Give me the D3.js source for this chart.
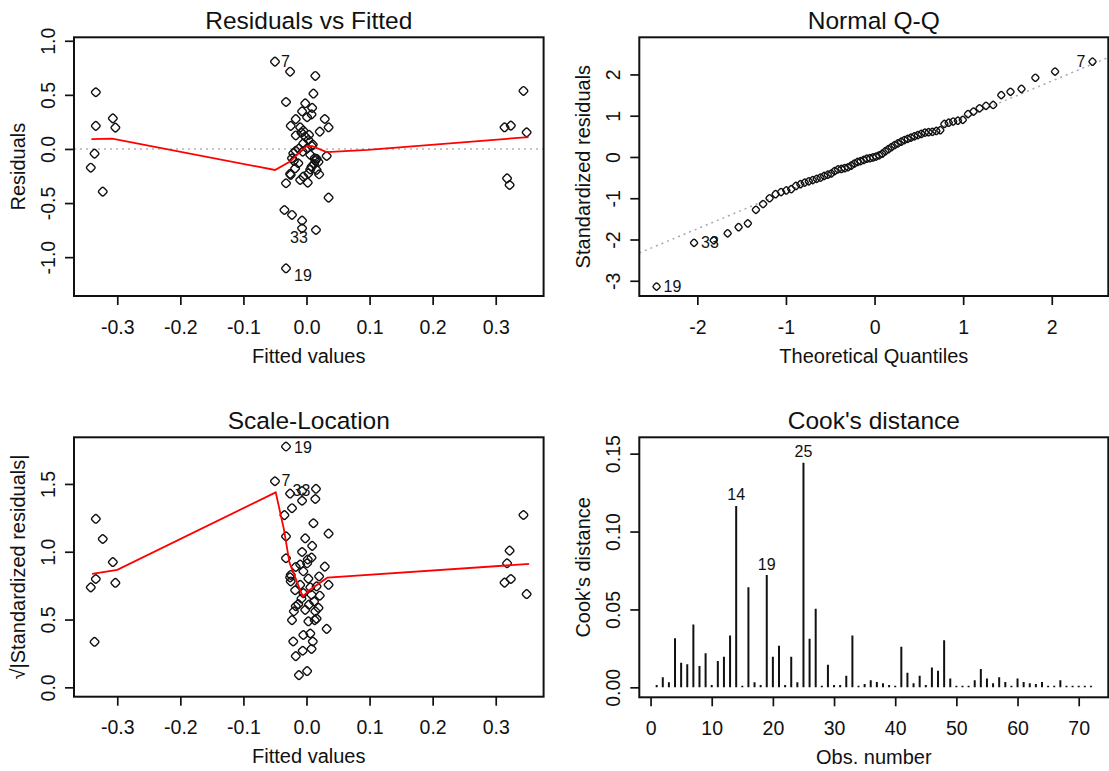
<!DOCTYPE html>
<html>
<head>
<meta charset="utf-8">
<script src="https://cdn.jsdelivr.net/npm/d3@7"></script>
<style>
  body { margin: 0; background: #fff; }
  svg text { font-family: "Liberation Sans", Arial, Helvetica, sans-serif; fill: #111; }
</style>
</head>
<body>
<svg id="chart" width="1109" height="771"></svg>
<script>
const fittedValues = [-0.342,-0.026,0.035,-0.307,-0.0325,0.021,-0.050,0.014,0.314,-0.017,
  0.011,-0.002,-0.334,0.344,0.003,-0.323,0.009,-0.005,-0.0325,-0.035,
  0.322,-0.012,-0.023,-0.007,0.318,0.035,-0.303,0.001,-0.007,0.008,
  -0.006,0.001,-0.007,-0.021,0.008,-0.017,0.029,0.032,0.013,-0.023,
  -0.334,-0.025,0.006,-0.010,-0.013,0.015,0.008,0.324,-0.005,0.016,
  -0.002,-0.025,-0.005,-0.336,0.003,0.020,-0.0325,0.002,-0.010,0.349,
  -0.018,0.004,0.010,-0.017,0.014,-0.020,0.012,-0.026,0.016,-0.008,
  0.006,0.019];

const residuals = [-0.173,0.714,0.200,0.283,0.434,0.160,0.807,0.675,0.200,0.125,
  0.512,0.422,0.524,0.536,0.083,-0.394,0.380,0.052,-1.103,-0.564,
  -0.333,0.003,-0.610,0.348,-0.271,-0.450,0.197,0.005,-0.662,0.028,
  -0.025,0.293,-0.733,-0.040,0.320,0.276,0.277,-0.065,-0.086,-0.086,
  0.213,0.213,-0.055,0.200,-0.132,-0.749,-0.163,0.216,0.169,-0.194,
  0.114,-0.240,-0.256,-0.043,-0.225,-0.234,-0.317,-0.311,-0.287,0.154,
  -0.179,0.130,0.040,-0.018,-0.110,-0.110,-0.140,-0.230,-0.090,0.150,
  -0.190,-0.120];

const sqrtStdResid = [0.737,1.429,0.756,0.924,1.114,0.676,1.520,1.389,0.772,0.598,
  1.210,1.099,1.243,1.271,0.487,1.094,1.043,0.386,1.776,1.270,
  1.008,0.090,1.321,0.998,0.915,1.134,0.771,0.120,1.376,0.283,
  0.270,0.915,1.448,0.338,0.957,0.888,0.890,0.431,0.496,0.496,
  0.799,0.781,0.397,0.756,0.614,1.464,0.683,0.799,0.695,0.745,
  0.571,0.829,0.856,0.336,0.802,0.818,0.952,0.943,0.906,0.688,
  0.716,0.610,0.338,0.230,0.561,0.561,0.633,0.811,0.507,0.655,
  0.737,0.586];

const cooksDistance = [0.0015,0.0064,0.0032,0.0315,0.0158,0.0148,0.0404,0.0137,0.0218,0.0015,
  0.0169,0.0197,0.0332,0.1164,0.0010,0.0642,0.0032,0.0015,0.0721,0.0197,
  0.0267,0.0015,0.0197,0.0032,0.1442,0.0312,0.0505,0.0010,0.0145,0.0015,
  0.0015,0.0075,0.0332,0.0010,0.0021,0.0045,0.0034,0.0026,0.0015,0.0010,
  0.0261,0.0094,0.0026,0.0075,0.0015,0.0128,0.0107,0.0302,0.0056,0.0010,
  0.0010,0.0010,0.0045,0.0118,0.0056,0.0026,0.0064,0.0034,0.0010,0.0056,
  0.0034,0.0026,0.0021,0.0034,0.0010,0.0010,0.0045,0.0010,0.0010,0.0010,
  0.0010,0.0010];

// normal Q-Q, sorted
const qqTheoretical = [-2.460,-2.037,-1.815,-1.658,-1.534,-1.430,-1.339,-1.258,-1.185,-1.117,
  -1.055,-0.996,-0.940,-0.887,-0.837,-0.788,-0.742,-0.697,-0.653,-0.610,
  -0.569,-0.528,-0.489,-0.450,-0.412,-0.374,-0.337,-0.300,-0.264,-0.228,
  -0.192,-0.157,-0.122,-0.087,-0.052,-0.017,0.017,0.052,0.087,0.122,
  0.157,0.192,0.228,0.264,0.300,0.337,0.374,0.412,0.450,0.489,
  0.528,0.569,0.610,0.653,0.697,0.742,0.788,0.837,0.887,0.940,
  0.996,1.055,1.117,1.185,1.258,1.339,1.430,1.534,1.658,1.815,
  2.037,2.460];
const qqStdResid = [-3.14,-2.08,-2.02,-1.85,-1.70,-1.61,-1.28,-1.14,-1.00,-0.90,
  -0.85,-0.81,-0.78,-0.70,-0.66,-0.62,-0.59,-0.56,-0.53,-0.50,
  -0.46,-0.43,-0.40,-0.34,-0.30,-0.29,-0.27,-0.25,-0.21,-0.16,
  -0.12,-0.10,-0.07,-0.04,-0.03,-0.01,0.01,0.04,0.08,0.14,
  0.19,0.24,0.29,0.33,0.37,0.41,0.44,0.47,0.50,0.53,
  0.56,0.59,0.60,0.61,0.63,0.65,0.80,0.83,0.86,0.88,
  0.90,1.04,1.10,1.18,1.24,1.26,1.50,1.58,1.65,1.92,
  2.07,2.31];
const qqLine = { intercept: 0.05, slope: 0.895 };

// smoother lines (red)
const rvfSmoothX = [-0.341,-0.308,-0.050,-0.026,-0.010,0.001,0.009,0.032,0.097,0.352];
const rvfSmoothY = [0.090,0.095,-0.194,-0.117,-0.025,0.028,0.025,-0.030,-0.009,0.110];
const slSmoothX = [-0.340,-0.300,-0.0488,-0.036,-0.027,-0.006,0.005,0.033,0.353];
const slSmoothY = [0.836,0.866,1.438,1.17,0.92,0.669,0.718,0.809,0.910];

// labelled observations
const rvfLabelled = [7, 19, 33];
const qqLabelled = [{ rank: 1, text: "19" }, { rank: 2, text: "33" }, { rank: 72, text: "7" }];
const cookLabelled = [14, 19, 25];

// ---- drawing ----
const svg = d3.select("#chart");
const ink = "#111";
let clipCount = 0;

// R's open circle comes out as a rounded diamond in the picture
function diamond(r) {
  const k = r * 0.28;
  return `M${-k},${-r + k}Q0,${-r} ${k},${-r + k}L${r - k},${-k}Q${r},0 ${r - k},${k}` +
    `L${k},${r - k}Q0,${r} ${-k},${r - k}L${-r + k},${k}Q${-r},0 ${-r + k},${-k}Z`;
}

function makePanel(b, xDomain, yDomain, xTicks, yTicks, xFmt, yFmt, title, xTitle, yTitle) {
  const x = d3.scaleLinear().domain(xDomain).range([b.left, b.right]);
  const y = d3.scaleLinear().domain(yDomain).range([b.bottom, b.top]);
  const g = svg.append("g");
  const id = "clip" + (clipCount++);
  svg.append("clipPath").attr("id", id).append("rect")
    .attr("x", b.left).attr("y", b.top)
    .attr("width", b.right - b.left).attr("height", b.bottom - b.top);
  const plot = g.append("g").attr("clip-path", `url(#${id})`);

  const xa = g.append("g").attr("transform", `translate(0,${b.bottom})`)
    .call(d3.axisBottom(x).tickValues(xTicks).tickFormat(xFmt).tickSize(9).tickSizeOuter(0));
  xa.attr("font-size", null).attr("font-family", null);
  xa.select(".domain").remove();
  xa.selectAll(".tick line").attr("stroke", ink).attr("stroke-width", 1.7);
  xa.selectAll(".tick text").attr("y", 37.5).attr("dy", null)
    .style("font-size", "19.5px");

  const ya = g.append("g").attr("transform", `translate(${b.left},0)`)
    .call(d3.axisLeft(y).tickValues(yTicks).tickFormat(yFmt).tickSize(9).tickSizeOuter(0));
  ya.attr("font-size", null).attr("font-family", null);
  ya.select(".domain").remove();
  ya.selectAll(".tick line").attr("stroke", ink).attr("stroke-width", 1.7);
  ya.selectAll(".tick text").attr("x", null).attr("dy", null)
    .attr("text-anchor", "middle")
    .attr("transform", "translate(-19,0) rotate(-90)")
    .style("font-size", "19.5px");

  g.append("rect")
    .attr("x", b.left).attr("y", b.top)
    .attr("width", b.right - b.left).attr("height", b.bottom - b.top)
    .attr("fill", "none").attr("stroke", ink).attr("stroke-width", 2);

  const cx = (b.left + b.right) / 2;
  g.append("text").attr("x", cx).attr("y", b.top - 8.5)
    .attr("text-anchor", "middle").style("font-size", "24.5px").text(title);
  g.append("text").attr("x", cx).attr("y", b.bottom + 66.5)
    .attr("text-anchor", "middle").style("font-size", "20px").text(xTitle);
  g.append("text")
    .attr("transform", `translate(${b.left - 49.5},${(b.top + b.bottom) / 2}) rotate(-90)`)
    .attr("text-anchor", "middle").style("font-size", "20px").text(yTitle);

  return { x, y, g, plot };
}

const fmt1 = d => d.toFixed(1);
const fmt0 = d => d.toFixed(0);
const fmt2 = d => d.toFixed(2);
const fittedTicks = [-0.3, -0.2, -0.1, 0, 0.1, 0.2, 0.3];

function drawPoints(p, xs, ys, r) {
  p.plot.selectAll(null).data(xs).enter().append("path")
    .attr("d", diamond(r))
    .attr("transform", (d, i) => `translate(${p.x(d)},${p.y(ys[i])})`)
    .attr("fill", "none").attr("stroke", ink).attr("stroke-width", 1.4);
}

function drawSmooth(p, xs, ys) {
  const line = d3.line().x(d => p.x(d[0])).y(d => p.y(d[1]));
  p.plot.append("path").datum(xs.map((d, i) => [d, ys[i]]))
    .attr("d", line).attr("fill", "none").attr("stroke", "#ff0000").attr("stroke-width", 1.8);
}

function label(p, px, py, text, dx, dy, anchor) {
  p.g.append("text").attr("x", p.x(px) + dx).attr("y", p.y(py) + dy)
    .attr("text-anchor", anchor || "start").style("font-size", "16px").text(text);
}

// 1. Residuals vs Fitted
const p1 = makePanel({ left: 74, right: 543.6, top: 37.3, bottom: 296 },
  [-0.3686, 0.3759], [-1.359, 1.032], fittedTicks, [-1, -0.5, 0, 0.5, 1],
  fmt1, fmt1, "Residuals vs Fitted", "Fitted values", "Residuals");
p1.plot.append("line")
  .attr("x1", p1.x.range()[0]).attr("x2", p1.x.range()[1])
  .attr("y1", p1.y(0)).attr("y2", p1.y(0))
  .attr("stroke", "#b4b4b4").attr("stroke-width", 1.5).attr("stroke-dasharray", "2 4");
drawPoints(p1, fittedValues, residuals, 5);
drawSmooth(p1, rvfSmoothX, rvfSmoothY);
const rvfNudge = { 7: [6, 5.5], 19: [8, 12.5], 33: [-12, 14.5] };
rvfLabelled.forEach(o => {
  const n = rvfNudge[o];
  label(p1, fittedValues[o - 1], residuals[o - 1], String(o), n[0], n[1]);
});

// 2. Normal Q-Q
const p2 = makePanel({ left: 639.3, right: 1108.3, top: 37.3, bottom: 296 },
  [-2.655, 2.638], [-3.369, 2.90], [-2, -1, 0, 1, 2], [-3, -2, -1, 0, 1, 2],
  fmt0, fmt0, "Normal Q-Q", "Theoretical Quantiles", "Standardized residuals");
const qd = p2.x.domain();
p2.plot.append("line")
  .attr("x1", p2.x(qd[0])).attr("y1", p2.y(qqLine.intercept + qqLine.slope * qd[0]))
  .attr("x2", p2.x(qd[1])).attr("y2", p2.y(qqLine.intercept + qqLine.slope * qd[1]))
  .attr("stroke", "#a8a8a8").attr("stroke-width", 1.5).attr("stroke-dasharray", "2 4");
drawPoints(p2, qqTheoretical, qqStdResid, 4.2);
qqLabelled.forEach(l => {
  const right = qqTheoretical[l.rank - 1] < 0;
  label(p2, qqTheoretical[l.rank - 1], qqStdResid[l.rank - 1], l.text,
    right ? 7 : -7, 5.5, right ? "start" : "end");
});

// 3. Scale-Location
const p3 = makePanel({ left: 74, right: 543.6, top: 437.3, bottom: 696.7 },
  [-0.3686, 0.3759], [-0.069, 1.844], fittedTicks, [0, 0.5, 1, 1.5],
  fmt1, fmt1, "Scale-Location", "Fitted values", "\u221A|Standardized residuals|");
drawPoints(p3, fittedValues, sqrtStdResid, 5);
drawSmooth(p3, slSmoothX, slSmoothY);
const slNudge = { 7: [6.5, 4.5], 19: [8, 6.5], 33: [-9.5, 5] };
rvfLabelled.forEach(o => {
  const n = slNudge[o];
  label(p3, fittedValues[o - 1], sqrtStdResid[o - 1], String(o), n[0], n[1]);
});

// 4. Cook's distance
const p4 = makePanel({ left: 639.3, right: 1108.3, top: 437.3, bottom: 697.3 },
  [-1.84, 74.84], [-0.0064, 0.1605], [0, 10, 20, 30, 40, 50, 60, 70], [0, 0.05, 0.1, 0.15],
  fmt0, fmt2, "Cook's distance", "Obs. number", "Cook's distance");
p4.plot.selectAll(null).data(cooksDistance).enter().append("line")
  .attr("x1", (d, i) => p4.x(i + 1)).attr("x2", (d, i) => p4.x(i + 1))
  .attr("y1", p4.y(0)).attr("y2", d => p4.y(d))
  .attr("stroke", ink).attr("stroke-width", 2);
cookLabelled.forEach(o => {
  label(p4, o, cooksDistance[o - 1], String(o), 0, -5.5, "middle");
});
</script>
</body>
</html>
